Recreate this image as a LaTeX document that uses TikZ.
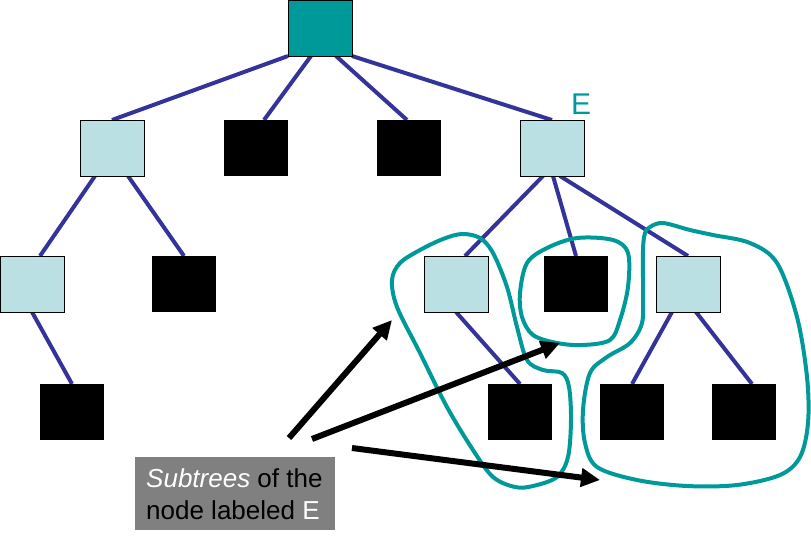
\documentclass[tikz,border=0pt]{standalone}
\usepackage{fontspec}
\setmainfont{Liberation Sans}
\usetikzlibrary{arrows.meta}
\definecolor{tealc}{HTML}{009999}
\definecolor{lblue}{HTML}{BBE0E3}
\definecolor{edgec}{HTML}{333399}
\definecolor{boxg}{HTML}{808080}
\begin{document}
\begin{tikzpicture}[x=1pt,y=-1pt,
  tnode/.style={rectangle, minimum width=64pt, minimum height=56pt, inner sep=0pt, outer sep=0pt},
  rootbox/.style={tnode, fill=tealc, draw=black, line width=0.8pt},
  inner/.style={tnode, fill=lblue, draw=black, line width=0.8pt},
  leaf/.style={tnode, fill=black},
  edge/.style={draw=edgec, line width=4pt},
  loop/.style={draw=tealc, line width=4pt},
  pointer/.style={draw=black, line width=6pt, -{Triangle[length=19pt,width=18pt]}}
]
\useasboundingbox (0,0) rectangle (811,542);
\node[rootbox] (root) at (320,28) {};
\node[inner] (a1) at (112,148) {};
\node[leaf]  (b1) at (256,148) {};
\node[leaf]  (c1) at (409,148) {};
\node[inner] (E)  at (552,148) {};
\node[inner] (a2) at (32,284) {};
\node[leaf]  (b2) at (184,284) {};
\node[inner] (c2) at (456,284) {};
\node[leaf]  (d2) at (576,284) {};
\node[inner] (e2) at (688,284) {};
\node[leaf]  (a3) at (72,412) {};
\node[leaf]  (b3) at (520,412) {};
\node[leaf]  (c3) at (632,412) {};
\node[leaf]  (d3) at (744,412) {};
% edges
\draw[edge] (root.south west) -- (a1.north);
\draw[edge] ([xshift=-9pt]root.south) -- ([xshift=8pt]b1.north);
\draw[edge] ([xshift=16pt]root.south) -- ([xshift=-2pt]c1.north);
\draw[edge] (root.south east) -- (E.north);
\draw[edge] ([xshift=-17pt]a1.south) -- ([xshift=8pt]a2.north);
\draw[edge] ([xshift=16pt]a1.south) -- (b2.north);
\draw[edge] (a2.south) -- (a3.north);
\draw[edge] ([xshift=-9pt]E.south) -- ([xshift=9pt]c2.north);
\draw[edge] ([xshift=1pt]E.south) -- (d2.north);
\draw[edge] ([xshift=8pt]E.south) -- (e2.north);
\draw[edge] (c2.south) -- (b3.north);
\draw[edge] ([xshift=-16pt]e2.south) -- (c3.north);
\draw[edge] ([xshift=8pt]e2.south) -- ([xshift=8pt]d3.north);
% redraw nodes on top of edges
\node[rootbox] at (root) {};
\node[inner] at (a1) {};
\node[inner] at (E) {};
\node[inner] at (a2) {};
\node[inner] at (c2) {};
\node[inner] at (e2) {};
\node[leaf] at (b1) {};
\node[leaf] at (c1) {};
\node[leaf] at (b2) {};
\node[leaf] at (d2) {};
\node[leaf] at (a3) {};
\node[leaf] at (b3) {};
\node[leaf] at (c3) {};
\node[leaf] at (d3) {};
% label E
\node[text=tealc, font=\fontsize{30}{36}\selectfont, inner sep=0pt] (Elab) at (581,104) {E};
% loops
\draw[loop] plot[smooth cycle, tension=0.55] coordinates {
 (462,234) (480,238) (493,253) (507,287) (517,327) (527,360) (543,370) (562,373)
 (569,387) (571,420) (568,457) (557,477) (533,486) (515,487) (493,477) (473,450)
 (447,407) (420,353) (397,307) (392,280) (400,263) (420,250) (443,239)};
\draw[loop] plot[smooth cycle, tension=0.55] coordinates {
 (577,238) (613,240) (628,253) (628,287) (620,320) (610,340) (583,345) (557,343)
 (533,335) (522,317) (520,293) (527,263) (547,248)};
\draw[loop] plot[smooth cycle, tension=0.55] coordinates {
 (650,227) (663,223) (690,230) (713,235) (750,243) (777,263) (797,317) (807,377)
 (808,423) (800,457) (780,475) (737,485) (687,486) (637,480) (597,467) (585,443)
 (583,410) (590,373) (607,357) (630,343) (642,323) (643,293) (643,250) (645,233)};
% label box
\node[fill=boxg, minimum width=200pt, minimum height=73pt, inner sep=0pt,
      anchor=north west] (labbox) at (135,457) {};
\node[font=\fontsize{26}{32}\selectfont, align=left, inner sep=0pt,
      anchor=west] (lab) at ([xshift=11pt]labbox.west)
  {\textcolor{white}{\itshape Subtrees} of the\\node labeled \textcolor{white}{E}};
% arrows
\coordinate (s1) at (289,438);
\coordinate (t1) at (392,320);
\coordinate (s2) at (312,439);
\coordinate (t2) at (560,343);
\coordinate (s3) at (352,448);
\coordinate (t3) at (600,480);
\draw[pointer] (s1) -- (t1);
\draw[pointer] (s2) -- (t2);
\draw[pointer] (s3) -- (t3);
\end{tikzpicture}
\end{document}
